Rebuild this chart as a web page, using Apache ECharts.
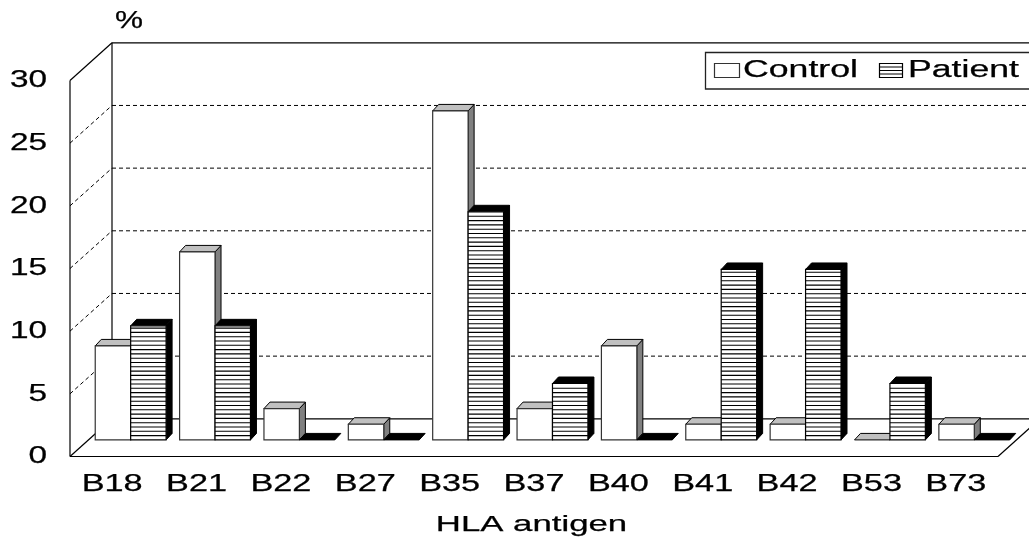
<!DOCTYPE html>
<html>
<head>
<meta charset="utf-8">
<script src="https://cdn.jsdelivr.net/npm/echarts@6/dist/echarts.min.js"></script>
<style>
  html, body { margin: 0; padding: 0; background: #fff; }
  #chart { width: 1029px; height: 540px; }
</style>
</head>
<body>
<div id="chart"></div>
<script>
// HLA-B antigen frequencies (%)
const categories = ['B18', 'B21', 'B22', 'B27', 'B35', 'B37', 'B40', 'B41', 'B42', 'B53', 'B73'];
const controlValues = [7.5, 15, 2.5, 1.25, 26.25, 2.5, 7.5, 1.25, 1.25, 0, 1.25];
const patientValues = [9.1, 9.1, 0, 0, 18.2, 4.5, 0, 13.6, 13.6, 4.5, 0];
const yTicks = [0, 5, 10, 15, 20, 25, 30];
const seriesNames = ['Control', 'Patient'];
const axisTitle = 'HLA antigen';
const unitLabel = '%';

// pseudo-3D projection settings
const DEPTH = [42, -37.7];      // offset from front plane to back wall
const BAR_POS = 0.44;           // depth fraction of bar front faces
const BAR_DEPTH = [6, -6.5];    // bar thickness offset
const BAR_WIDTH = 0.42;         // fraction of a category band per bar
const STRIPE_GAP = 4.3;
const FONT = '"Liberation Sans", Arial, sans-serif';
const FONT_SIZE = 23;
const STRETCH = 1.5;

const chart = echarts.init(document.getElementById('chart'), null, { renderer: 'canvas' });

function renderFrame(params, api) {
  const cs = params.coordSys;
  const x0 = cs.x, x1 = cs.x + cs.width;
  const [dx, dy] = DEPTH;
  const yOf = v => api.coord([0, v])[1];
  const solid = { stroke: '#000', lineWidth: 1.2, fill: null };
  const dashed = { stroke: '#000', lineWidth: 1, lineDash: [4, 3], fill: null };
  const children = [];
  const line = (a, b, c, d, style) =>
    children.push({ type: 'line', shape: { x1: a, y1: b, x2: c, y2: d }, style });
  const yb = yOf(yTicks[0]);
  const yt = yOf(yTicks[yTicks.length - 1]);
  yTicks.forEach((v, k) => {
    const y = yOf(v);
    const edge = k === 0 || k === yTicks.length - 1;
    line(x0, y, x0 + dx, y + dy, edge ? solid : dashed);            // side wall
    line(x0 + dx, y + dy, x1 + dx, y + dy, edge ? solid : dashed);  // back wall
  });
  line(x0, yb, x0, yt, solid);
  line(x0 + dx, yb + dy, x0 + dx, yt + dy, solid);
  line(x0, yb, x1, yb, solid);
  line(x1, yb, x1 + dx, yb + dy, solid);
  return { type: 'group', children };
}

function barRenderer(which) {
  const look = which === 0
    ? { front: '#fff', frontStroke: '#333', top: '#c0c0c0', side: '#808080', edge: '#000' }
    : { front: '#fff', frontStroke: '#000', top: '#000', side: '#000', edge: '#000' };
  return function (params, api) {
    const i = api.value(0), v = api.value(1);
    const base = api.coord([i, 0]);
    const top = api.coord([i, v]);
    const band = api.size([1, 0])[0];
    const w = band * BAR_WIDTH;
    const sx = DEPTH[0] * BAR_POS, sy = DEPTH[1] * BAR_POS;
    const xl = base[0] + sx - (which === 0 ? w : 0);
    const xr = xl + w;
    const yb = base[1] + sy, yt = top[1] + sy;
    const [bx, by] = BAR_DEPTH;
    const children = [];
    if (v > 0) {
      children.push({
        type: 'polygon',
        shape: { points: [[xr, yt], [xr + bx, yt + by], [xr + bx, yb + by], [xr, yb]] },
        style: { fill: look.side, stroke: look.edge, lineWidth: 1 }
      });
    }
    children.push({
      type: 'polygon',
      shape: { points: [[xl, yt], [xl + bx, yt + by], [xr + bx, yt + by], [xr, yt]] },
      style: { fill: look.top, stroke: look.edge, lineWidth: 1 }
    });
    if (v > 0) {
      children.push({
        type: 'rect',
        shape: { x: xl, y: yt, width: w, height: yb - yt },
        style: { fill: look.front, stroke: look.frontStroke, lineWidth: 1.2 }
      });
      if (which === 1) {
        for (let y = yb - STRIPE_GAP; y > yt + 1; y -= STRIPE_GAP) {
          children.push({
            type: 'line',
            shape: { x1: xl, y1: y, x2: xr, y2: y },
            style: { stroke: '#000', lineWidth: 1.1 }
          });
        }
      }
    }
    return { type: 'group', children };
  };
}

chart.setOption({
  animation: false,
  backgroundColor: '#fff',
  grid: { left: 70, top: 80.5, width: 928, height: 376 },
  xAxis: { type: 'category', data: categories, show: false },
  yAxis: { type: 'value', min: 0, max: 30, interval: 5, show: false },
  series: [
    { type: 'custom', name: 'frame', silent: true, clip: false, z: 1,
      renderItem: renderFrame, data: [[0, 0]] },
    { type: 'custom', name: seriesNames[0], clip: false, z: 2,
      renderItem: barRenderer(0), data: controlValues.map((v, i) => [i, v]) },
    { type: 'custom', name: seriesNames[1], clip: false, z: 3,
      renderItem: barRenderer(1), data: patientValues.map((v, i) => [i, v]) }
  ]
});

// text and legend
function stretchedText(x, y, text, align, size, stretch) {
  return {
    type: 'text', x, y, scaleX: stretch || STRETCH, z: 10,
    style: {
      x: 0, y: 0, text, fill: '#000', stroke: '#000', lineWidth: 0.25,
      font: (size || FONT_SIZE) + 'px ' + FONT,
      textAlign: align, textVerticalAlign: 'middle'
    }
  };
}

const graphics = [];
yTicks.forEach(v => {
  const p = chart.convertToPixel({ gridIndex: 0 }, [0, v]);
  graphics.push(stretchedText(47, p[1] + 0.5, String(v), 'right', FONT_SIZE, 1.45));
});
categories.forEach((c, i) => {
  const p = chart.convertToPixel({ gridIndex: 0 }, [i, 0]);
  graphics.push(stretchedText(p[0], 484.5, c, 'center', FONT_SIZE, 1.49));
});
graphics.push(stretchedText(531.5, 525, axisTitle, 'center', 22, 1.58));
graphics.push(stretchedText(129, 21.5, unitLabel, 'center', FONT_SIZE, 1.37));

// legend box
graphics.push({
  type: 'rect', z: 9,
  shape: { x: 705.5, y: 52.5, width: 360, height: 36.5 },
  style: { fill: '#fff', stroke: '#222', lineWidth: 1.3 }
});
graphics.push({
  type: 'rect', z: 10,
  shape: { x: 714.5, y: 63.5, width: 25, height: 14 },
  style: { fill: '#fff', stroke: '#333', lineWidth: 1.2 }
});
graphics.push(stretchedText(743, 71, seriesNames[0], 'left', FONT_SIZE, 1.55));
graphics.push({
  type: 'rect', z: 10,
  shape: { x: 879.5, y: 63.5, width: 23, height: 14 },
  style: { fill: '#fff', stroke: '#000', lineWidth: 1.2 }
});
[67, 70.5, 74].forEach(y => graphics.push({
  type: 'line', z: 10,
  shape: { x1: 879.5, y1: y, x2: 902.5, y2: y },
  style: { stroke: '#000', lineWidth: 1 }
}));
graphics.push(stretchedText(908, 71, seriesNames[1], 'left', FONT_SIZE, 1.55));

chart.setOption({ graphic: graphics });
</script>
</body>
</html>
